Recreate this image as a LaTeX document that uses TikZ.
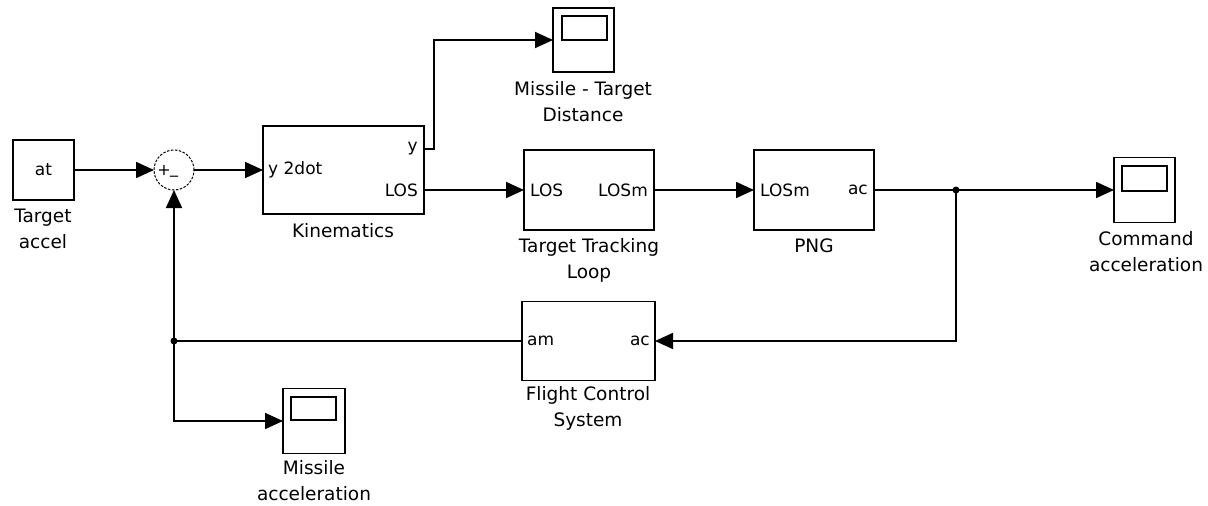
\documentclass[tikz,border=0pt]{standalone}
\usepackage{fontspec}
\setmainfont{DejaVu Sans}
\usetikzlibrary{arrows.meta}
\begin{document}
\begin{tikzpicture}[x=1pt,y=-1pt,
  blk/.style={draw,line width=1.7pt,inner sep=0pt,outer sep=0pt},
  scope/.style={blk,minimum width=61pt,minimum height=64pt},
  wire/.style={line width=1.7pt},
  arr/.style={wire,-{Triangle[length=18pt,width=16pt]}},
  lbl/.style={align=center,inner sep=0pt,font=\fontsize{18.5}{26}\selectfont},
  port/.style={inner sep=0pt,font=\fontsize{17}{20}\selectfont},
  dot/.style={circle,fill,inner sep=0pt,minimum size=7pt}
]
\useasboundingbox (0,0) rectangle (1208,506);

% blocks
\node[blk,minimum width=61pt,minimum height=60pt] (tgt) at (43.5,170) {};
\node[port] (tgttxt) at (43.5,170) {at};
\node[lbl] (tgtl) at (43,229) {Target\\accel};

\node[draw,circle,line width=1pt,dash pattern=on 2.5pt off 1.5pt,minimum size=40pt,inner sep=0pt,outer sep=0pt] (sum) at (174,170) {};
\node[port,font=\fontsize{16}{16}\selectfont] (plus) at (164,170) {+};
\node[port,font=\fontsize{16}{16}\selectfont] (minus) at (174,175) {\_};

\node[blk,minimum width=161pt,minimum height=88pt] (kin) at (343.5,170) {};
\node[port,anchor=west] (kinin) at (268,170) {y 2dot};
\node[port,anchor=east] (kiny) at (418,149) {y};
\node[port,anchor=east] (kinlos) at (418,190) {LOS};
\node[lbl] (kinl) at (343,231) {Kinematics};

\node[scope] (sc1) at (583.5,40) {};
\draw[line width=1.7pt] (562,16) rectangle (607,40);
\node[lbl] (sc1l) at (583,101.5) {Missile - Target\\Distance};

\node[blk,minimum width=130pt,minimum height=80pt] (ttl) at (589,190) {};
\node[port,anchor=west] (ttlin) at (530,190) {LOS};
\node[port,anchor=east] (ttlout) at (648,190) {LOSm};
\node[lbl] (ttll) at (589,260) {Target Tracking\\Loop};

\node[blk,minimum width=120pt,minimum height=80pt] (png) at (814,190) {};
\node[port,anchor=west] (pngin) at (760,190) {LOSm};
\node[port,anchor=east] (pngout) at (868,190) {ac};
\node[lbl] (pngl) at (814,246) {PNG};

\node[scope,minimum height=65pt] (sc2) at (1144.5,190) {};
\draw[line width=1.7pt] (1122,166) rectangle (1167,191);
\node[lbl] (sc2l) at (1146,252) {Command\\acceleration};

\node[blk,minimum width=133pt,minimum height=79pt] (fcs) at (588.5,341) {};
\node[port,anchor=west] (fcsin) at (527,341) {am};
\node[port,anchor=east] (fcsout) at (650,341) {ac};
\node[lbl] (fcsl) at (588,408) {Flight Control\\System};

\node[scope,minimum width=62pt,minimum height=65pt] (sc3) at (314,421) {};
\draw[line width=1.7pt] (291,397) rectangle (336,420);
\node[lbl] (sc3l) at (314,481) {Missile\\acceleration};

% connectors
\coordinate (ky) at (424,149);
\coordinate (klos) at (424,190);
\coordinate (j1) at (956,190);
\coordinate (j2) at (174,341);

\draw[arr] (tgt.east) -- (sum.west);
\draw[arr] (sum.east) -- (kin.west);
\draw[arr] (ky) -- (434,149) |- (sc1.west);
\draw[arr] (klos) -- (ttl.west);
\draw[arr] (ttl.east) -- (png.west);
\draw[arr] (png.east) -- (j1) -- (sc2.west);
\draw[arr] (j1) |- (fcs.east);
\draw[wire] (fcs.west) -- (j2);
\draw[arr] (j2) -- (sum.south);
\draw[arr] (j2) |- (sc3.west);
\node[dot] (d1) at (j1) {};
\node[dot] (d2) at (j2) {};
\end{tikzpicture}
\end{document}
